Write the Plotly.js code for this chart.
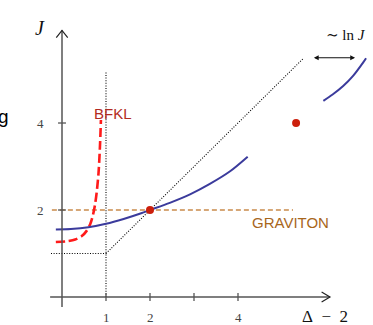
<!DOCTYPE html>
<html>
<head>
<meta charset="utf-8">
<script src="https://cdn.plot.ly/plotly-3.0.1.min.js"></script>
<style>
  html, body { margin: 0; padding: 0; background: #fff; }
  #chart { width: 373px; height: 325px; }
</style>
</head>
<body>
<div id="chart"></div>
<script>
// Leading Regge trajectory J(Δ−2): weak-coupling (BFKL) and strong-coupling branches
const trajLowX = [-0.14, 0.2, 0.6, 1.0, 1.4, 1.8, 2.0, 2.45, 2.91, 3.36, 3.82, 4.22];
const trajLowJ = [1.552, 1.562, 1.602, 1.682, 1.794, 1.926, 2.0, 2.165, 2.36, 2.60, 2.89, 3.225];

const trajHighX = [5.94, 6.15, 6.39, 6.62, 6.85, 6.91];
const trajHighJ = [4.51, 4.655, 4.85, 5.09, 5.40, 5.49];

const bfklX = [-0.14, 0.1, 0.3, 0.45, 0.56, 0.64, 0.70, 0.75, 0.79, 0.83, 0.86, 0.885];
const bfklJ = [1.265, 1.28, 1.32, 1.40, 1.52, 1.67, 1.87, 2.12, 2.42, 2.85, 3.4, 4.07];

// graviton intercept J = 2
const gravitonX = [-0.23, 5.25];
const gravitonJ = [2, 2];

// physical states on the trajectory
const stateX = [2, 5.32];
const stateJ = [2, 4.0];

// guide lines: J = 1 floor, Δ−2 = 1 wall, diagonal J = Δ−2
const floorX = [-0.25, 1];
const floorJ = [1, 1];
const wallX = [1, 1];
const wallJ = [0, 5.17];
const diagX = [1, 5.48];
const diagJ = [1, 5.48];

// tick marks and labels
const xTickVals = [1, 2, 3, 4];
const xTickText = ['1', '2', '', '4'];
const yTickVals = [2, 4];
const yTickText = ['2', '4'];

// axis extents
const xAxisFrom = -0.27, xAxisTo = 6.09;
const yAxisFrom = -0.23, yAxisTo = 6.13;

const axisColor = '#555555';
const blue = '#3b3b9c';
const guide = { color: '#000', width: 1.1, dash: '1px,1.6px' };

const traces = [
  { x: floorX, y: floorJ, mode: 'lines', line: guide, hoverinfo: 'skip' },
  { x: wallX, y: wallJ, mode: 'lines', line: guide, hoverinfo: 'skip' },
  { x: diagX, y: diagJ, mode: 'lines', line: guide, hoverinfo: 'skip' },
  { x: gravitonX, y: gravitonJ, mode: 'lines', line: { color: '#c98a4b', width: 1.6, dash: '5px,3px' }, hoverinfo: 'skip' },
  { x: bfklX, y: bfklJ, mode: 'lines', line: { color: '#ff1a1a', width: 2.6, dash: '9px,4px', shape: 'spline', smoothing: 0.8 }, hoverinfo: 'skip' },
  { x: trajLowX, y: trajLowJ, mode: 'lines', line: { color: blue, width: 2, shape: 'spline', smoothing: 0.8 }, hoverinfo: 'skip' },
  { x: trajHighX, y: trajHighJ, mode: 'lines', line: { color: blue, width: 2, shape: 'spline', smoothing: 0.8 }, hoverinfo: 'skip' },
  { x: stateX, y: stateJ, mode: 'markers', marker: { color: '#cc1f0c', size: 8 }, hoverinfo: 'skip' }
];

const shapes = [];
// axes
shapes.push({ type: 'line', xref: 'x', yref: 'y', x0: xAxisFrom, x1: xAxisTo, y0: 0, y1: 0, line: { color: axisColor, width: 1.5 } });
shapes.push({ type: 'line', xref: 'x', yref: 'y', x0: 0, x1: 0, y0: yAxisFrom, y1: yAxisTo, line: { color: axisColor, width: 1.5 } });
// open arrowheads
shapes.push({ type: 'path', xref: 'x', yref: 'y',
  path: `M ${xAxisTo - 0.19},0.115 L ${xAxisTo},0 L ${xAxisTo - 0.19},-0.115`, line: { color: '#222', width: 1.2 } });
shapes.push({ type: 'path', xref: 'x', yref: 'y',
  path: `M -0.13,${yAxisTo - 0.165} L 0,${yAxisTo} L 0.13,${yAxisTo - 0.165}`, line: { color: '#222', width: 1.2 } });
// ticks
xTickVals.forEach(v => shapes.push({ type: 'line', xref: 'x', yref: 'y', x0: v, x1: v, y0: -0.09, y1: 0.09, line: { color: axisColor, width: 1.3 } }));
yTickVals.forEach(v => shapes.push({ type: 'line', xref: 'x', yref: 'y', x0: -0.09, x1: 0.09, y0: v, y1: v, line: { color: axisColor, width: 1.3 } }));

const serif = 'Liberation Serif, DejaVu Serif, serif';
const sans = 'Liberation Sans, Arial, sans-serif';

const annotations = [];
xTickVals.forEach((v, i) => {
  if (xTickText[i]) annotations.push({ x: v, y: -0.48, xref: 'x', yref: 'y', text: xTickText[i], showarrow: false,
    font: { family: serif, size: 13, color: '#444' } });
});
yTickVals.forEach((v, i) => annotations.push({ x: -0.5, y: v, xref: 'x', yref: 'y', text: yTickText[i], showarrow: false,
  font: { family: serif, size: 13, color: '#444' } }));

annotations.push({ x: 5.98, y: -0.45, xref: 'x', yref: 'y', text: 'Δ\u2002−\u20022', showarrow: false,
  font: { family: serif, size: 17, color: '#111' } });
annotations.push({ x: -0.5, y: 6.18, xref: 'x', yref: 'y', text: '<i>J</i>', showarrow: false,
  font: { family: serif, size: 20, color: '#111' } });
annotations.push({ x: 6.45, y: 6.02, xref: 'x', yref: 'y', text: '∼ ln <i>J</i>', showarrow: false,
  font: { family: serif, size: 15, color: '#111' } });
annotations.push({ x: 6.66, y: 5.5, ax: 5.69, ay: 5.5, xref: 'x', yref: 'y', axref: 'x', ayref: 'y',
  text: '', showarrow: true, arrowside: 'end+start', arrowhead: 2, arrowsize: 0.8, arrowwidth: 1.2, arrowcolor: '#111' });
annotations.push({ x: 1.15, y: 4.23, xref: 'x', yref: 'y', text: 'BFKL', showarrow: false,
  font: { family: sans, size: 15, color: '#b22a22' } });
annotations.push({ x: 5.2, y: 1.72, xref: 'x', yref: 'y', text: 'GRAVITON', showarrow: false,
  font: { family: sans, size: 15, color: '#a8661c' } });
annotations.push({ x: -1.34, y: 4.14, xref: 'x', yref: 'y', text: 'g', showarrow: false,
  font: { family: sans, size: 19, color: '#000' } });

const hidden = { showgrid: false, zeroline: false, showticklabels: false, ticks: '', showline: false, fixedrange: true };

const layout = {
  width: 373, height: 325,
  margin: { l: 0, r: 0, t: 0, b: 0, pad: 0 },
  paper_bgcolor: '#fff', plot_bgcolor: '#fff',
  showlegend: false,
  xaxis: Object.assign({ range: [-1.409, 7.068] }, hidden),
  yaxis: Object.assign({ range: [-0.644, 6.828] }, hidden),
  shapes: shapes,
  annotations: annotations
};

Plotly.newPlot('chart', traces, layout, { staticPlot: true, displayModeBar: false });
</script>
</body>
</html>
